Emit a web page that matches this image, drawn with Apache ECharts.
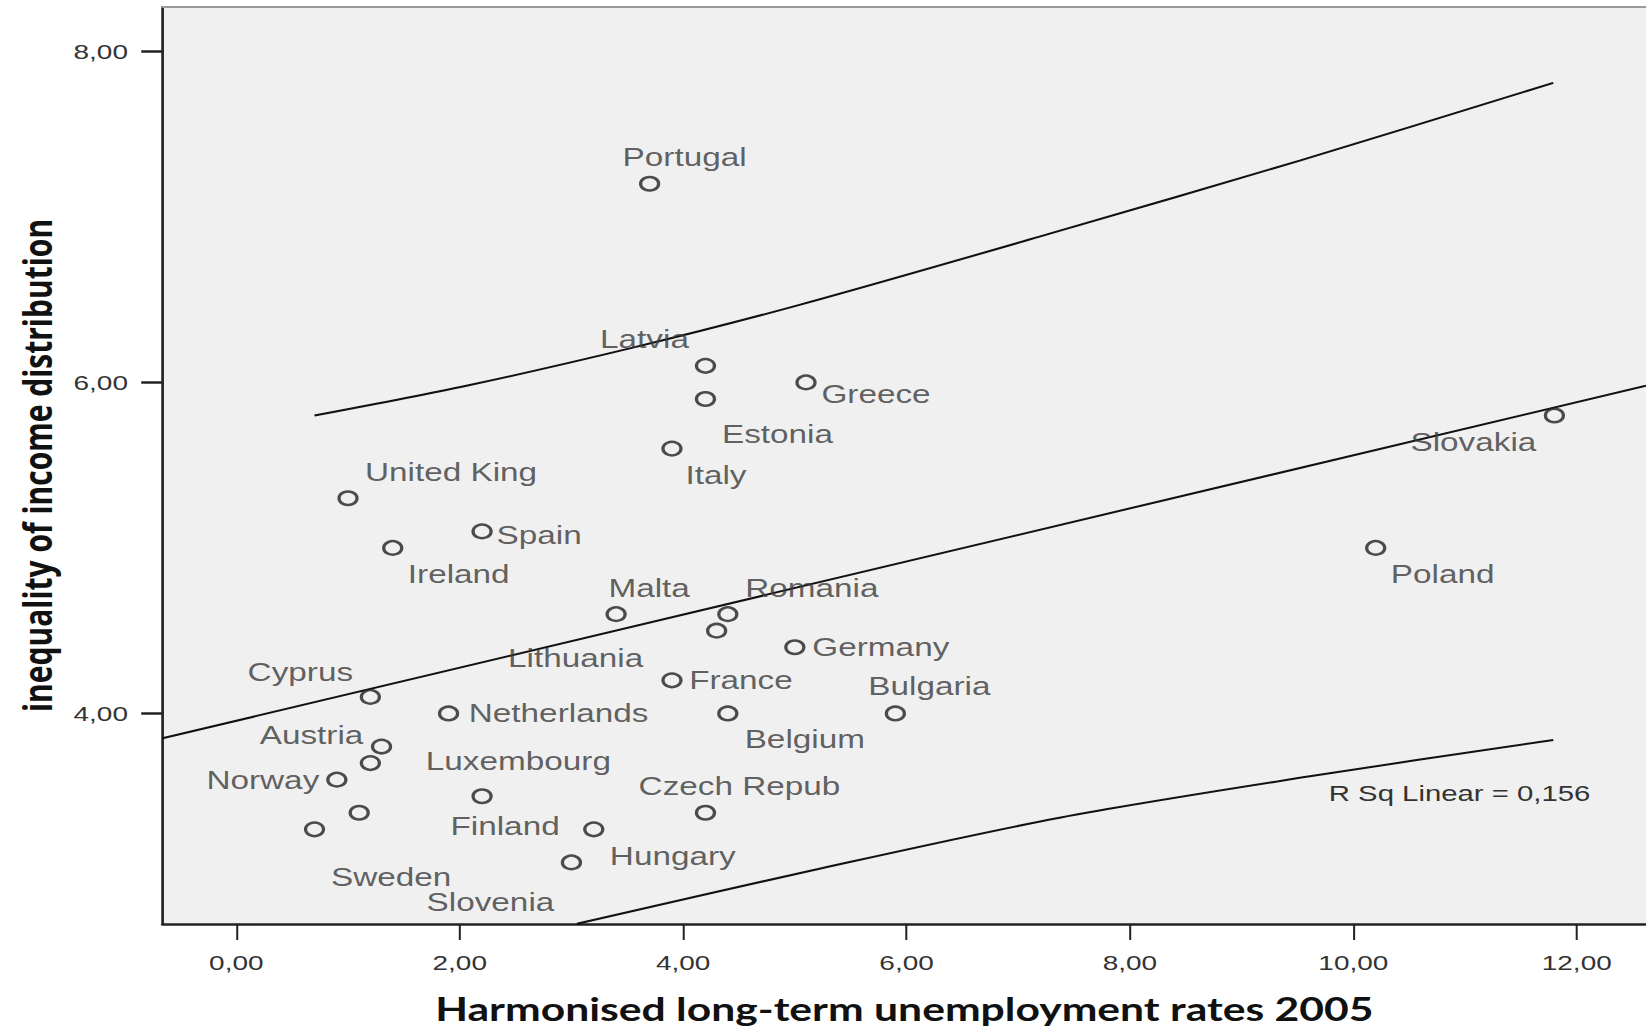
<!DOCTYPE html>
<html>
<head>
<meta charset="utf-8">
<script src="https://cdn.jsdelivr.net/npm/echarts@6/dist/echarts.min.js"></script>
<style>
  html, body { margin: 0; padding: 0; background: #ffffff; }
  #wrap { position: absolute; left: 0; top: 0; width: 1646px; height: 1030px; overflow: hidden; background: #ffffff; }
  #chart { position: absolute; left: 0; top: 0; width: 1235px; height: 1030px; transform-origin: 0 0; }
</style>
</head>
<body>
<div id="wrap"><div id="chart"></div></div>
<script>
// ---------------- data ----------------
const countries = ['Portugal','Latvia','Greece','Estonia','Italy','United King','Spain','Ireland','Slovakia','Poland',
  'Malta','Romania','Lithuania','Germany','France','Cyprus','Netherlands','Belgium','Bulgaria','Austria',
  'Luxembourg','Norway','Finland','Czech Repub','Sweden','','Hungary','Slovenia'];
const unemployment = [3.7, 4.2, 5.1, 4.2, 3.9, 1.0, 2.2, 1.4, 11.8, 10.2,
  3.4, 4.4, 4.3, 5.0, 3.9, 1.2, 1.9, 4.4, 5.9, 1.3,
  1.2, 0.9, 2.2, 4.2, 1.1, 0.7, 3.2, 3.0];
const inequality = [7.2, 6.1, 6.0, 5.9, 5.6, 5.3, 5.1, 5.0, 5.8, 5.0,
  4.6, 4.6, 4.5, 4.4, 4.2, 4.1, 4.0, 4.0, 4.0, 3.8,
  3.7, 3.6, 3.5, 3.4, 3.4, 3.3, 3.3, 3.1];

// fit line and prediction interval curves
const fitX = [-0.66, 12.62];
const fitY = [3.85, 5.98];
const upperX = [0.70, 2.06, 3.55, 5.05, 7.29, 9.52, 11.79];
const upperY = [5.80, 5.98, 6.21, 6.47, 6.90, 7.34, 7.81];
const lowerX = [3.05, 5.14, 7.37, 9.61, 11.79];
const lowerY = [2.73, 3.05, 3.37, 3.62, 3.84];

const xTickValues = [0, 2, 4, 6, 8, 10, 12];
const xTickLabels = ['0,00', '2,00', '4,00', '6,00', '8,00', '10,00', '12,00'];
const yTickValues = [4, 6, 8];
const yTickLabels = ['4,00', '6,00', '8,00'];

const xTitle = 'Harmonised long-term unemployment rates 2005';
const yTitle = 'inequality of income distribution';
const rSqText = 'R Sq Linear = 0,156';

// ---------------- layout (not data) ----------------
const STRETCH = 1646 / 1235;   // the reference is stretched horizontally
document.getElementById('chart').style.transform = 'scaleX(' + STRETCH + ')';
// label offsets in reference pixels [dx, dy] (text centre relative to point)
const labelOffsets = [[35,-27],[-61,-27],[70,12],[72,35],[44,26],[103,-26],[57,4],[66,26],[-81,27],[67,26],
  [33,-26],[84,-26],[-141,27],[86,0],[69,0],[-70,-25],[110,0],[77,26],[34,-27],[-70,-11],
  [148,-2],[-74,0],[23,30],[34,-27],[32,64],[0,0],[79,27],[-81,40]];

const sansFont = '"Liberation Sans", Arial, sans-serif';
const xTitleFont = 'Lato, "Open Sans", sans-serif';
const yTitleFont = '"Open Sans", Lato, sans-serif';

const pts = unemployment.map((x, i) => ({
  name: countries[i],
  value: [x, inequality[i]],
  label: { offset: [labelOffsets[i][0] / STRETCH, labelOffsets[i][1]] }
}));
const pair = (xs, ys) => xs.map((x, i) => [x, ys[i]]);

const X_MIN = -0.66, X_MAX = 12.62, Y_MIN = 2.728, Y_MAX = 8.268;

const chart = echarts.init(document.getElementById('chart'), null, { renderer: 'svg' });
chart.setOption({
  animation: false,
  backgroundColor: 'transparent',
  grid: { left: 122, top: 7, right: 0, bottom: 104, show: true, backgroundColor: '#f0f0f0', borderWidth: 0 },
  xAxis: [{
    type: 'value', position: 'bottom', min: X_MIN, max: X_MAX,
    axisLine: { show: true, onZero: false, lineStyle: { color: '#222', width: 2.5 } },
    axisTick: { show: true, length: 16, customValues: xTickValues, lineStyle: { color: '#222', width: 1.5 } },
    axisLabel: { customValues: xTickValues, margin: 28, fontSize: 21, color: '#333', fontFamily: sansFont,
      formatter: v => xTickLabels[xTickValues.indexOf(v)] },
    splitLine: { show: false },
    name: xTitle, nameLocation: 'middle', nameGap: 69,
    nameTextStyle: { fontFamily: xTitleFont, fontWeight: 'bold', fontSize: 32, color: '#111' }
  }, {
    type: 'value', position: 'top', min: X_MIN, max: X_MAX,
    axisLine: { show: true, onZero: false, lineStyle: { color: '#9a9a9a', width: 2 } },
    axisTick: { show: false }, axisLabel: { show: false }, splitLine: { show: false }
  }],
  yAxis: {
    type: 'value', min: Y_MIN, max: Y_MAX,
    axisLine: { show: true, onZero: false, lineStyle: { color: '#222', width: 2 } },
    axisTick: { show: true, length: 16, customValues: yTickValues, lineStyle: { color: '#222', width: 2.5 } },
    axisLabel: { customValues: yTickValues, margin: 26, fontSize: 21, color: '#333', fontFamily: sansFont,
      formatter: v => yTickLabels[yTickValues.indexOf(v)] },
    splitLine: { show: false },
    name: yTitle, nameLocation: 'middle', nameGap: 80, nameRotate: 90,
    nameTextStyle: { fontFamily: yTitleFont, fontWeight: 'bold', fontSize: 30, color: '#111' }
  },
  graphic: [{
    type: 'text', left: 997, top: 782, z: 100,
    style: { text: rSqText, fontSize: 22, fontFamily: sansFont, fill: '#333' }
  }],
  series: [
    { type: 'line', data: pair(fitX, fitY), symbol: 'none', lineStyle: { color: '#111', width: 2 }, z: 3 },
    { type: 'line', data: pair(upperX, upperY), symbol: 'none', smooth: 0.3, lineStyle: { color: '#111', width: 2 }, z: 3 },
    { type: 'line', data: pair(lowerX, lowerY), symbol: 'none', smooth: 0.3, lineStyle: { color: '#111', width: 2 }, z: 3 },
    {
      type: 'scatter', data: pts, symbol: 'circle', symbolSize: 13.5, z: 4,
      itemStyle: { color: 'rgba(0,0,0,0)', borderColor: '#222', borderWidth: 2.5 },
      label: { show: true, position: 'inside', formatter: p => p.name, fontSize: 25, color: '#3a3a3a', fontFamily: sansFont }
    }
  ]
});
</script>
</body>
</html>
